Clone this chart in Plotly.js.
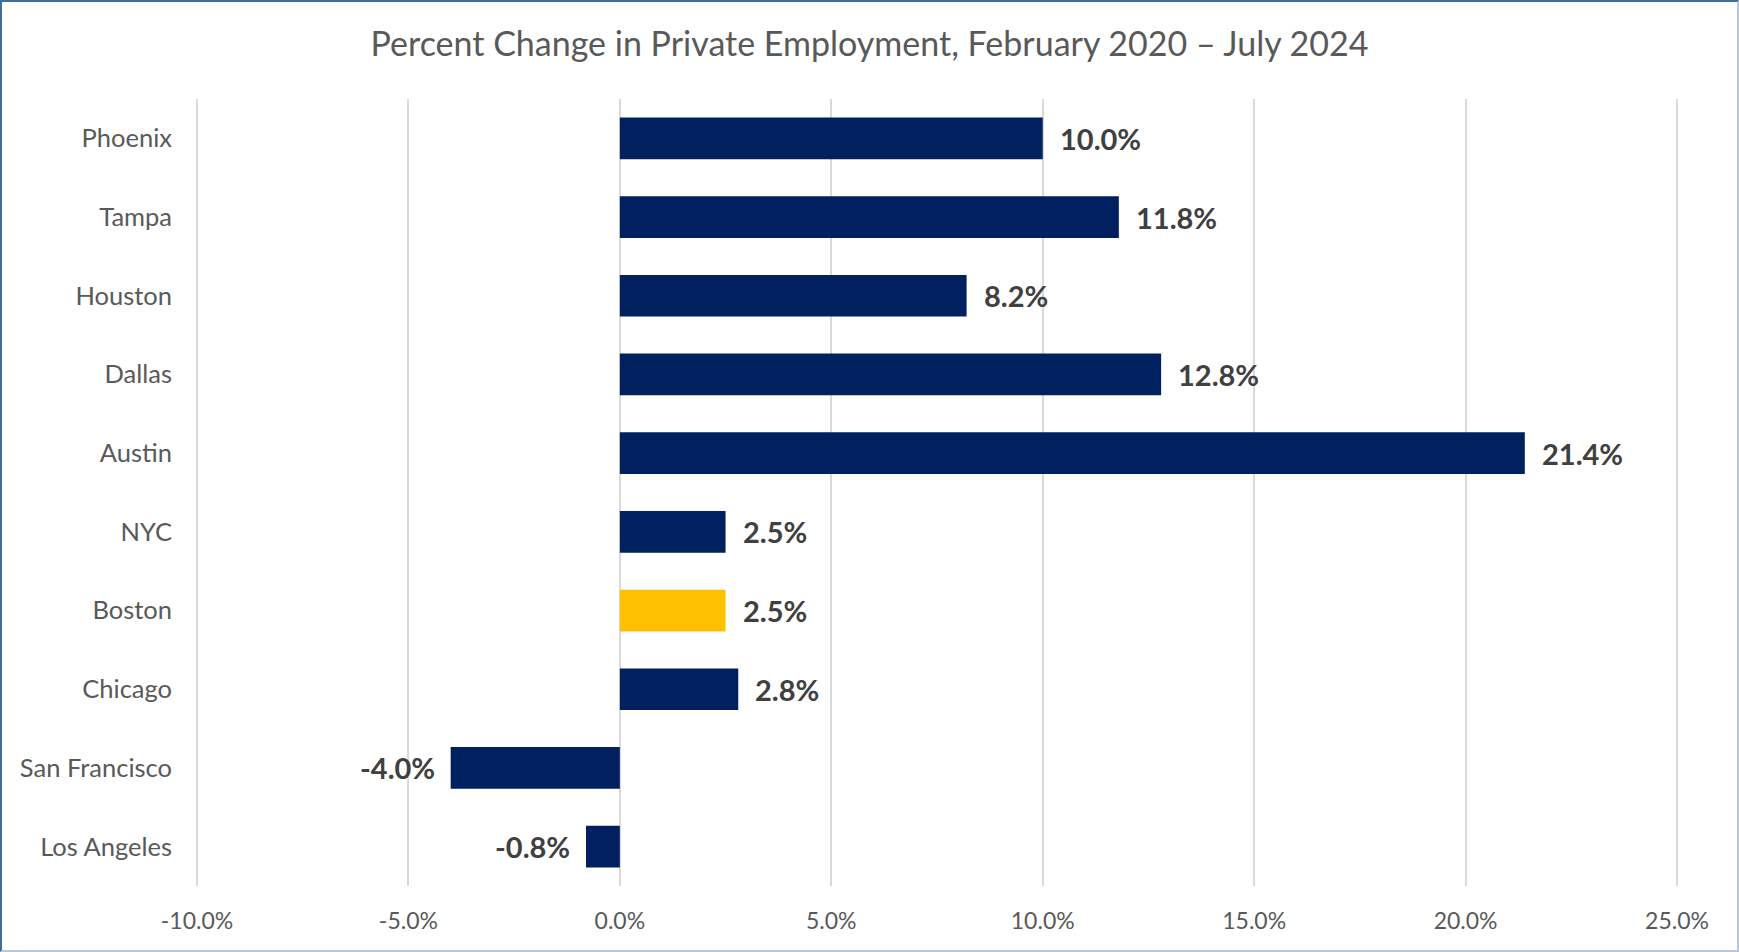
<!DOCTYPE html>
<html>
<head>
<meta charset="utf-8">
<script src="https://cdn.plot.ly/plotly-3.0.1.min.js"></script>
<style>
  html, body { margin: 0; padding: 0; background: #ffffff; }
  #wrap { position: relative; width: 1739px; height: 952px; }
  #chart { position: absolute; left: 0; top: 0; width: 1739px; height: 952px; }
  #frame {
    position: absolute; left: 0; top: 0; width: 1739px; height: 952px;
    box-sizing: border-box; pointer-events: none;
    border-top: 2px solid #3F6F95; border-left: 2px solid #3F6F95;
    border-right: 2px solid #B9C6D3; border-bottom: 2px solid #B9C6D3;
  }
</style>
</head>
<body>
<div id="wrap">
  <div id="chart"></div>
  <div id="frame"></div>
</div>
<script>
// Data (top to bottom as shown)
const cities = ["Phoenix", "Tampa", "Houston", "Dallas", "Austin", "NYC", "Boston", "Chicago", "San Francisco", "Los Angeles"];
const pctChange = [10.0, 11.8, 8.2, 12.8, 21.4, 2.5, 2.5, 2.8, -4.0, -0.8];
const highlightCity = "Boston";
const xTickValues = [-10, -5, 0, 5, 10, 15, 20, 25];
const xTickLabels = ["-10.0%", "-5.0%", "0.0%", "5.0%", "10.0%", "15.0%", "20.0%", "25.0%"];

const NAVY = "#002060";
const GOLD = "#FFC000";
const FONT = "Lato, 'Open Sans', sans-serif";

const trace = {
  type: "bar",
  orientation: "h",
  y: cities,
  x: pctChange,
  marker: { color: cities.map(c => c === highlightCity ? GOLD : NAVY), line: { width: 0 } },
  hoverinfo: "skip"
};

const annotations = cities.map((c, i) => ({
  x: pctChange[i],
  y: c,
  xref: "x",
  yref: "y",
  text: pctChange[i].toFixed(1) + "%",
  showarrow: false,
  xanchor: pctChange[i] >= 0 ? "left" : "right",
  yanchor: "middle",
  xshift: pctChange[i] >= 0 ? 15 : -14,
  font: { family: FONT, size: 29, color: "#404040", weight: "bold" }
}));

const layout = {
  width: 1739,
  height: 952,
  paper_bgcolor: "#ffffff",
  plot_bgcolor: "#ffffff",
  margin: { l: 194, r: 59, t: 99, b: 66 },
  showlegend: false,
  bargap: 0.47,
  title: {
    text: "Percent Change in Private Employment, February 2020 – July 2024",
    x: 0.5, xref: "container", xanchor: "center",
    y: 1 - 44 / 952, yref: "container", yanchor: "middle",
    font: { family: FONT, size: 34, color: "#595959" }
  },
  xaxis: {
    range: [-10.07, 25.07],
    tickvals: xTickValues,
    ticktext: xTickLabels,
    showgrid: true,
    gridcolor: "#D9D9D9",
    gridwidth: 2,
    zeroline: true,
    zerolinecolor: "#D9D9D9",
    zerolinewidth: 2,
    showline: false,
    ticks: "",
    ticklabelstandoff: 19,
    tickfont: { family: FONT, size: 23, color: "#595959" },
    fixedrange: true
  },
  yaxis: {
    type: "category",
    autorange: "reversed",
    showgrid: false,
    zeroline: false,
    showline: false,
    ticks: "",
    ticklabelstandoff: 21,
    tickfont: { family: FONT, size: 25.5, color: "#595959" },
    fixedrange: true
  },
  annotations: annotations
};

Plotly.newPlot("chart", [trace], layout, { displayModeBar: false, staticPlot: true });
</script>
</body>
</html>
